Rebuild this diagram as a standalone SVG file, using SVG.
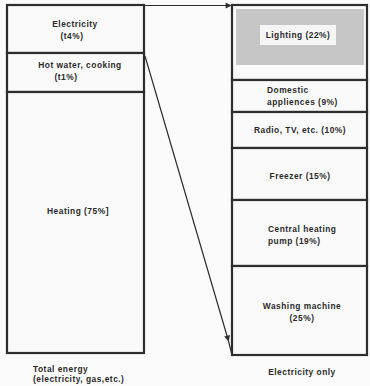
<svg xmlns="http://www.w3.org/2000/svg" width="370" height="386" viewBox="0 0 370 386">
<defs>
<style>
.box{fill:#fafafa;stroke:#2e2e2e;stroke-width:2.2}
.t{font-family:"Liberation Sans",Arial,sans-serif;font-size:8.4px;font-weight:bold;fill:#2a2a2a;letter-spacing:0.5px}
.m{text-anchor:middle}
.c{fill:none;stroke:#2e2e2e;stroke-width:1.2}
</style>
<marker id="ah" viewBox="0 0 10 10" refX="9" refY="5" markerWidth="8" markerHeight="6" orient="auto" markerUnits="userSpaceOnUse">
<path d="M0,0 L10,5 L0,10 z" fill="#2e2e2e"/>
</marker>
</defs>
<rect width="370" height="386" fill="#fbfbfb"/>
<g id="left-electricity">
<rect class="box" x="7" y="5" width="137" height="48"/>
<text class="t m" x="75" y="27">Electricity</text>
<text class="t m" x="72" y="39">(t4%)</text>
</g>
<g id="left-hotwater">
<rect class="box" x="7" y="53" width="137" height="39"/>
<text class="t m" x="80" y="68">Hot water, cooking</text>
<text class="t m" x="66" y="80">(t1%)</text>
</g>
<g id="left-heating">
<rect class="box" x="7" y="92" width="137" height="261"/>
<text class="t m" x="78" y="214">Heating (75%]</text>
</g>
<g id="right-lighting">
<rect class="box" x="232" y="5" width="135" height="75"/>
<rect x="236" y="9" width="128" height="56" fill="#c6c6c6"/>
<rect x="260" y="25" width="76" height="20" fill="#f6f6f6"/>
<text class="t m" x="298" y="38">Lighting (22%)</text>
</g>
<g id="right-domestic">
<rect class="box" x="232" y="80" width="135" height="32"/>
<text class="t" x="267" y="93">Domestic</text>
<text class="t" x="267" y="105">appliences (9%)</text>
</g>
<g id="right-radio">
<rect class="box" x="232" y="112" width="135" height="36"/>
<text class="t m" x="300" y="133">Radio, TV, etc. (10%)</text>
</g>
<g id="right-freezer">
<rect class="box" x="232" y="148" width="135" height="52"/>
<text class="t m" x="300" y="179">Freezer (15%)</text>
</g>
<g id="right-pump">
<rect class="box" x="232" y="200" width="135" height="66"/>
<text class="t" x="268" y="232">Central heating</text>
<text class="t" x="268" y="244">pump (19%)</text>
</g>
<g id="right-washing">
<rect class="box" x="232" y="266" width="135" height="89"/>
<text class="t m" x="302" y="309">Washing machine</text>
<text class="t m" x="302" y="321">(25%)</text>
</g>
<g id="labels">
<text class="t" x="33" y="372">Total energy</text>
<text class="t" x="33" y="382">(electricity, gas,etc.)</text>
<text class="t m" x="302" y="375">Electricity only</text>
</g>
<g id="connectors">
<polyline class="c" points="144,5.5 231,5.5" marker-end="url(#ah)"/>
<polyline class="c" points="145,56 228.5,341 232,355" marker-mid="url(#ah)"/>
</g>
</svg>
